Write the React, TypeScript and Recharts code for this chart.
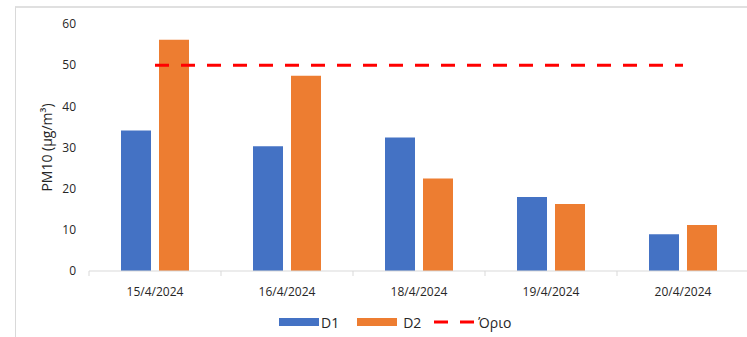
import React from 'react';
import { ComposedChart, Bar, Line, XAxis, YAxis, Legend } from 'recharts';

const categories = ['15/4/2024', '16/4/2024', '18/4/2024', '19/4/2024', '20/4/2024'];
const d1Values = [34.1, 30.3, 32.4, 18.0, 8.9];
const d2Values = [56.2, 47.4, 22.5, 16.3, 11.2];
const limitValues = [50, 50, 50, 50, 50];
const yTicks = [0, 10, 20, 30, 40, 50, 60];

const data = categories.map((c, i) => ({ name: c, D1: d1Values[i], D2: d2Values[i], limit: limitValues[i] }));

const FONT = '"Open Sans", "Noto Sans", sans-serif';
const BLUE = '#4472C4';
const ORANGE = '#ED7D31';
const RED = '#FF0000';
const AXIS = '#d9d9d9';
const TEXT = '#262626';

const XTick = (props: any) => {
  const { x, y, payload, index, width, visibleTicksCount } = props;
  const band = width / visibleTicksCount;
  const axisY = y - 8;
  return (
    <g>
      <line x1={x - band / 2} x2={x - band / 2} y1={axisY} y2={axisY + 5} stroke={AXIS} strokeWidth={1} />
      {index === visibleTicksCount - 1 && (
        <line x1={x + band / 2} x2={x + band / 2} y1={axisY} y2={axisY + 5} stroke={AXIS} strokeWidth={1} />
      )}
      <text x={x} y={axisY + 25} textAnchor="middle" fontFamily={FONT} fontSize={12} fill={TEXT}>
        {payload.value}
      </text>
    </g>
  );
};

const LegendContent = () => (
  <div style={{ display: 'flex', alignItems: 'center', paddingLeft: 279, fontFamily: FONT, fontSize: 14, color: TEXT, height: 20 }}>
    <div style={{ width: 40, height: 8, background: BLUE }} />
    <span style={{ marginLeft: 2, marginRight: 18 }}>D1</span>
    <div style={{ width: 40, height: 8, background: ORANGE }} />
    <span style={{ marginLeft: 6, marginRight: 13 }}>D2</span>
    <svg width={40} height={8}>
      <line x1={0} x2={40} y1={4} y2={4} stroke={RED} strokeWidth={3} strokeDasharray="14 12" />
    </svg>
    <span style={{ marginLeft: 4 }}>Όριο</span>
  </div>
);

export default function App() {
  return (
    <div style={{ position: 'absolute', left: 0, top: 0, width: 747, height: 337, overflow: 'hidden', background: '#fff' }}>
      <div style={{ position: 'absolute', left: 15, top: 6, width: 900, height: 500, borderTop: '2px solid #e0e0e0', borderLeft: '1px solid #d9d9d9' }} />
      <div style={{ position: 'absolute', left: 0, top: 0 }}>
        <ComposedChart
          width={750}
          height={337}
          data={data}
          margin={{ top: 24, right: 1, left: 0, bottom: 16 }}
          barSize={30}
          barGap={8}
        >
          <XAxis
            dataKey="name"
            height={30}
            axisLine={{ stroke: AXIS, strokeWidth: 1 }}
            tickLine={false}
            tick={<XTick />}
            interval={0}
          />
          <YAxis
            width={89}
            domain={[0, 60]}
            ticks={yTicks}
            axisLine={false}
            tickLine={false}
            tickSize={0}
            tickMargin={13}
            tick={{ fontFamily: FONT, fontSize: 12, fill: TEXT }}
            label={{
              value: 'PM10 (μg/m³)',
              angle: -90,
              position: 'insideLeft',
              offset: 47,
              style: { textAnchor: 'middle', fontFamily: FONT, fontSize: 14, fill: TEXT },
            }}
          />
          <Bar dataKey="D1" fill={BLUE} isAnimationActive={false} />
          <Bar dataKey="D2" fill={ORANGE} isAnimationActive={false} />
          <Line
            dataKey="limit"
            stroke={RED}
            strokeWidth={3}
            strokeDasharray="14 12"
            dot={false}
            activeDot={false}
            isAnimationActive={false}
          />
          <Legend
            verticalAlign="bottom"
            height={20}
            content={<LegendContent />}
            wrapperStyle={{ top: 312, left: 0, width: 747, height: 20 }}
          />
        </ComposedChart>
      </div>
    </div>
  );
}
